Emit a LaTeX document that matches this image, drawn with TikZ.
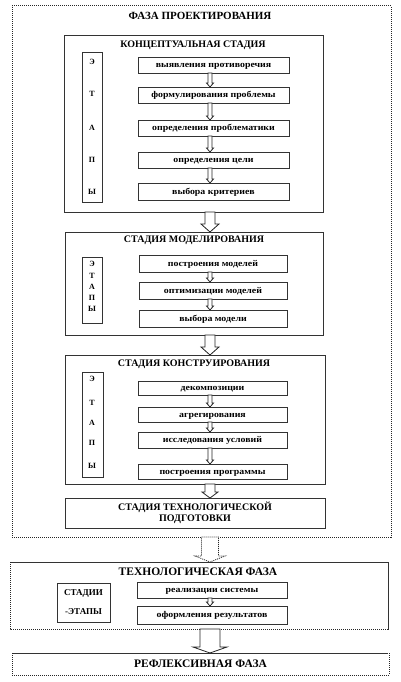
\documentclass[tikz,border=0pt]{standalone}
\usepackage{fontspec}
\setmainfont{Liberation Serif}
\newfontfamily\stepfnt{Liberation Serif}[FakeStretch=1.12]
\usetikzlibrary{calc}
\tikzset{
  box/.style={draw=black!80, line width=0.9pt, inner sep=0pt, outer sep=0pt, anchor=north west},
  stepbox/.style={box, font=\stepfnt\bfseries\fontsize{8.8}{10}\selectfont, text height=5.5pt, text depth=0.5pt},
  dotbox/.style={draw=black!85, line width=1pt, dash pattern=on 1pt off 1pt, inner sep=0pt, outer sep=0pt, anchor=north west},
  ttl/.style={font=\bfseries\fontsize{10}{12}\selectfont, inner sep=0pt},
  phasettl/.style={font=\bfseries\fontsize{11.5}{13}\selectfont, inner sep=0pt},
  let/.style={font=\bfseries\fontsize{8}{9}\selectfont, inner sep=0pt},
  barrow/.style={draw=black!85, line width=0.8pt, fill=white},
}
% #2 top coordinate, #3 bottom coordinate, #4 shaft half-width, #5 head half-width, #6 head length
\newcommand\blockarr[6][]{%
  \path[barrow,#1] let \p1=#2, \p2=#3 in
    (\x1-#4,\y1) -- (\x1+#4,\y1) -- (\x1+#4,\y2+#6) -- (\x1+#5,\y2+#6) -- (\x1,\y2)
    -- (\x1-#5,\y2+#6) -- (\x1-#4,\y2+#6) -- cycle;}
\begin{document}
\begin{tikzpicture}[x=1pt,y=-1pt]
\useasboundingbox (0,0) rectangle (401,682);
% ---------- design phase ----------
\node[dotbox, minimum width=379, minimum height=531] (P) at (12,6) {};
\node[phasettl, font=\bfseries\fontsize{11}{13}\selectfont] (Pt) at (200,16) {ФАЗА ПРОЕКТИРОВАНИЯ};

% conceptual stage
\node[box, minimum width=259, minimum height=177] (C) at (64,35) {};
\node[ttl] (Ct) at (193,45) {КОНЦЕПТУАЛЬНАЯ СТАДИЯ};
\node[box, minimum width=20, minimum height=150] (Cv) at (82,52) {};
\node[let] (Cl1) at (92,62) {Э};
\node[let] (Cl2) at (92,94) {Т};
\node[let] (Cl3) at (92,128) {А};
\node[let] (Cl4) at (92,160) {П};
\node[let] (Cl5) at (92,192) {Ы};
\node[stepbox, minimum width=151, minimum height=16] (c1) at (138,57) {выявления противоречия};
\node[stepbox, minimum width=151, minimum height=16] (c2) at (138,87) {формулирования проблемы};
\node[stepbox, minimum width=151, minimum height=16] (c3) at (138,120) {определения проблематики};
\node[stepbox, minimum width=151, minimum height=16] (c4) at (138,152) {определения цели};
\node[stepbox, minimum width=151, minimum height=17] (c5) at (138,183) {выбора критериев};
\coordinate (ax) at (210,0);
\blockarr{(c1.south -| ax)}{(c2.north -| ax)}{2pt}{3.5pt}{4pt}
\blockarr{(c2.south -| ax)}{(c3.north -| ax)}{2pt}{3.5pt}{4pt}
\blockarr{(c3.south -| ax)}{(c4.north -| ax)}{2pt}{3.5pt}{4pt}
\blockarr{(c4.south -| ax)}{(c5.north -| ax)}{2pt}{3.5pt}{4pt}

% modelling stage
\node[box, minimum width=258, minimum height=103] (M) at (65,232) {};
\node[ttl] (Mt) at (194,240) {СТАДИЯ МОДЕЛИРОВАНИЯ};
\node[box, minimum width=20, minimum height=66] (Mv) at (82,257) {};
\node[let] (Ml1) at (92,264) {Э};
\node[let] (Ml2) at (92,276) {Т};
\node[let] (Ml3) at (92,287) {А};
\node[let] (Ml4) at (92,298) {П};
\node[let] (Ml5) at (92,309) {Ы};
\node[stepbox, minimum width=148, minimum height=17] (m1) at (139,255) {построения моделей};
\node[stepbox, minimum width=148, minimum height=17] (m2) at (139,282) {оптимизации моделей};
\node[stepbox, minimum width=148, minimum height=17] (m3) at (139,310) {выбора модели};
\blockarr{(m1.south -| ax)}{(m2.north -| ax)}{2pt}{3.5pt}{4pt}
\blockarr{(m2.south -| ax)}{(m3.north -| ax)}{2pt}{3.5pt}{4pt}
\blockarr{(C.south -| ax)}{(M.north -| ax)}{5pt}{9pt}{8pt}

% construction stage
\node[box, minimum width=260, minimum height=129] (K) at (65,355) {};
\node[ttl] (Kt) at (194,364) {СТАДИЯ КОНСТРУИРОВАНИЯ};
\node[box, minimum width=21, minimum height=105] (Kv) at (82,372) {};
\node[let] (Kl1) at (92,379) {Э};
\node[let] (Kl2) at (92,403) {Т};
\node[let] (Kl3) at (92,423) {А};
\node[let] (Kl4) at (92,443) {П};
\node[let] (Kl5) at (92,466) {Ы};
\node[stepbox, minimum width=149, minimum height=14] (k1) at (138,381) {декомпозиции};
\node[stepbox, minimum width=149, minimum height=15] (k2) at (138,407) {агрегирования};
\node[stepbox, minimum width=149, minimum height=16] (k3) at (138,432) {исследования условий};
\node[stepbox, minimum width=149, minimum height=15] (k4) at (138,464) {построения программы};
\blockarr{(k1.south -| ax)}{(k2.north -| ax)}{2pt}{3.5pt}{4pt}
\blockarr{(k2.south -| ax)}{(k3.north -| ax)}{2pt}{3.5pt}{4pt}
\blockarr{(k3.south -| ax)}{(k4.north -| ax)}{2pt}{3.5pt}{4pt}
\blockarr{(M.south -| ax)}{(K.north -| ax)}{5pt}{9pt}{8pt}

% technological preparation stage
\node[box, minimum width=260, minimum height=30, align=center, font=\bfseries\fontsize{10}{11}\selectfont] (T) at (65,498) {СТАДИЯ ТЕХНОЛОГИЧЕСКОЙ\\ПОДГОТОВКИ};
\blockarr{(K.south -| ax)}{(T.north -| ax)}{5pt}{8pt}{6pt}

% ---------- technological phase ----------
\node[box, minimum width=378, minimum height=67] (F) at (10,562) {};
\draw[white, line width=1.2pt] (F.north west) -- (F.south west) -- (F.south east);
\draw[dotbox] (F.north west) -- (F.south west) -- (F.south east);
\node[phasettl] (Ft) at (198,572) {ТЕХНОЛОГИЧЕСКАЯ ФАЗА};
\node[box, minimum width=53, minimum height=39] (Fs) at (57,583) {};
\node[let, font=\bfseries\fontsize{9}{10}\selectfont] (Fs1) at (Fs.center) [yshift=9.5pt] {СТАДИИ};
\node[let, font=\bfseries\fontsize{9}{10}\selectfont] (Fs2) at (Fs.center) [yshift=-9pt] {-ЭТАПЫ};
\node[stepbox, minimum width=150, minimum height=16] (f1) at (137,582) {реализации системы};
\node[stepbox, minimum width=150, minimum height=18] (f2) at (137,606) {оформления результатов};
\blockarr{(f1.south -| ax)}{(f2.north -| ax)}{2pt}{3.5pt}{4pt}
\coordinate (bx) at (210,0);
\blockarr[dash pattern=on 1pt off 1pt]{(P.south -| bx)}{(F.north -| bx)}{8.5pt}{15pt}{6pt}

% ---------- reflexive phase ----------
\node[box, minimum width=377, minimum height=22, font=\bfseries\fontsize{11.5}{13}\selectfont] (R) at (12,653) {РЕФЛЕКСИВНАЯ ФАЗА};
\draw[white, line width=1.2pt] (R.north east) -- (R.south east) -- (R.south west) -- (R.north west);
\draw[dotbox] (R.north east) -- (R.south east) -- (R.south west) -- (R.north west);
\blockarr{(F.south -| bx)}{(R.north -| bx)}{10pt}{17pt}{6pt}
\end{tikzpicture}
\end{document}
